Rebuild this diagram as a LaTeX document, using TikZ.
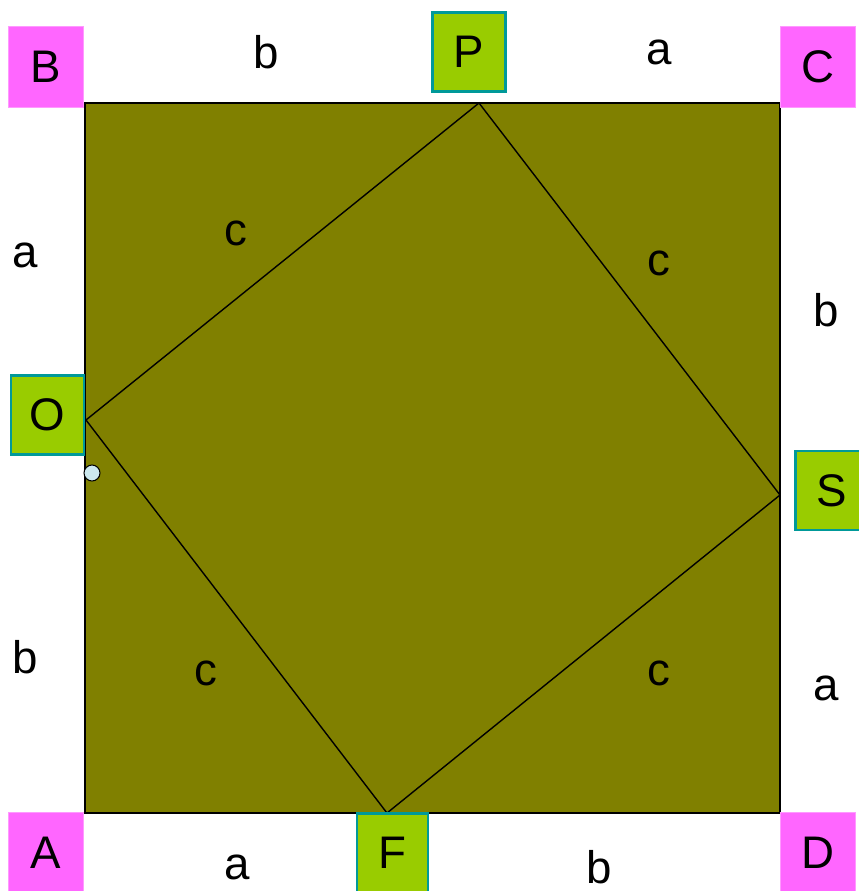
\documentclass[tikz,border=0pt]{standalone}
\usepackage{fontspec}
\setmainfont{Liberation Sans}

\definecolor{olivefill}{HTML}{808000}
\definecolor{pinkbox}{HTML}{FF66FF}
\definecolor{pinkline}{HTML}{FF99FF}
\definecolor{greenbox}{HTML}{99CC00}
\definecolor{tealline}{HTML}{009999}
\definecolor{dotfill}{HTML}{CCE8EE}

\begin{document}
\begin{tikzpicture}[x=0.02cm, y=-0.02cm,
		every node/.style={font=\fontsize{26}{31}\selectfont},
		cornerbox/.style={rectangle, fill=pinkbox, draw=pinkline, line width=0.5pt, minimum width=1.5cm, minimum height=1.62cm, inner sep=0pt},
		pointbox/.style={rectangle, fill=greenbox, draw=tealline, line width=1.2pt, minimum width=1.46cm, minimum height=1.58cm, inner sep=0pt}]
				\useasboundingbox (0,0) rectangle (858,891);
				
				% Вершины большого квадрата
				\coordinate (a) at (85,813);
				\coordinate (b) at (85,103);
				\coordinate (c) at (780,103);
				\coordinate (d) at (780,813);
				
				% Вершины внутреннего квадрата
				\coordinate (p) at (479,103);
				\coordinate (o) at (86,420);
				\coordinate (s) at (780,495);
				\coordinate (f) at (387,813);
				
				% Большой квадрат
				\draw[fill=olivefill, line width=1.1pt] (a) -- (b) -- (c) -- (d) -- cycle;
				
				% Внутренний квадрат
				\draw[line width=0.8pt] (p) -- (s) -- (f) -- (o) -- cycle;
				
				% Маленький кружок
				\draw[fill=dotfill, line width=0.6pt] (92,473) circle (8);
				
				% Подписи вершин
				\node[cornerbox] (A) at (45.5,852.5) {A};
				\node[cornerbox] (B) at (45.5,66.5) {B};
				\node[cornerbox] (C) at (817.5,66.5) {C};
				\node[cornerbox] (D) at (817.5,852.5) {D};
				\node[pointbox] (P) at (469,52) {P};
				\node[pointbox] (O) at (47.5,415) {O};
				\node[pointbox] (S) at (832,490.5) {S};
				\node[pointbox, minimum width=1.42cm] (F) at (392.5,853) {F};
				
				% Подписи сторон
				\node (ab1) at (266,52) {b};
				\node (ab2) at (659,52) {a};
				\node (ab3) at (25,255) {a};
				\node (ab4) at (25,657) {b};
				\node (ab5) at (826,310) {b};
				\node (ab6) at (826,688) {a};
				\node (ab7) at (237,867) {a};
				\node (ab8) at (599,867) {b};
				
				% Подписи гипотенуз
				\node (c1) at (236,233) {c};
				\node (c2) at (659,263) {c};
				\node (c3) at (206,673) {c};
				\node (c4) at (659,673) {c};
			\end{tikzpicture}
\end{document}
